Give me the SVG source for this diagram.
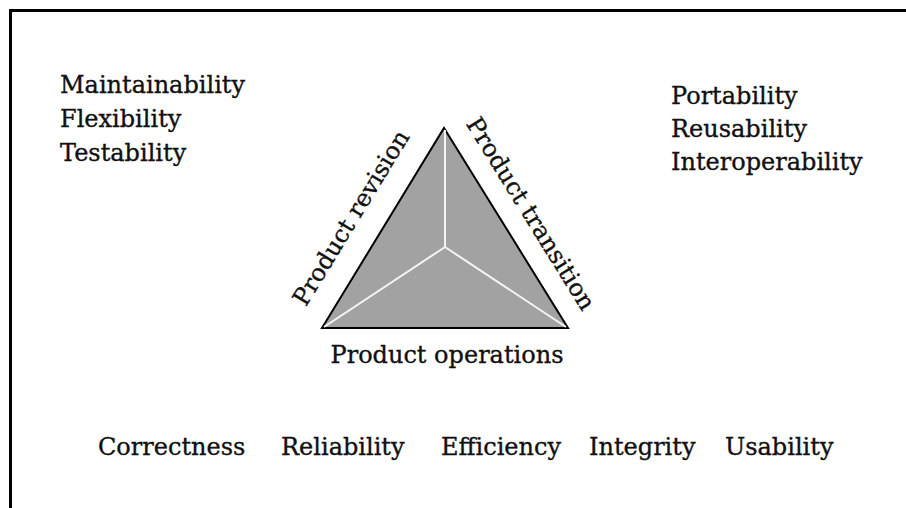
<svg xmlns="http://www.w3.org/2000/svg" width="906" height="508" viewBox="0 0 906 508">
  <style>
    .lbl { font-family: "DejaVu Serif", "Liberation Serif", serif; font-size: 24px; fill: #111; stroke: #111; stroke-width: 0.35px; }
    .frame { fill: none; stroke: #000; stroke-width: 3; }
    .tri { fill: #a2a2a2; stroke: #000; stroke-width: 2; stroke-linejoin: miter; }
    .spoke { stroke: #f4f4f4; stroke-width: 2; fill: none; }
  </style>
  <rect width="906" height="508" fill="#fff"/>
  <!-- open frame: left and top edges -->
  <path class="frame" d="M10.5,508 V10.5 H906"/>

  <!-- factor triangle -->
  <g id="triangle">
    <polygon class="tri" points="444,128 568,328 322,328"/>
    <g id="connectors">
      <line class="spoke" x1="445" y1="247" x2="445" y2="130"/>
      <line class="spoke" x1="445" y1="247" x2="324" y2="327"/>
      <line class="spoke" x1="445" y1="247" x2="566" y2="327"/>
    </g>
  </g>

  <g id="product-revision">
    <text class="lbl" x="358" y="222" text-anchor="middle" transform="rotate(-58.6 358 222)">Product revision</text>
  </g>
  <g id="product-transition">
    <text class="lbl" x="524" y="218" text-anchor="middle" transform="rotate(58.2 524 218)">Product transition</text>
  </g>
  <g id="product-operations">
    <text class="lbl" x="447" y="363" text-anchor="middle">Product operations</text>
  </g>

  <g id="revision-factors">
    <text class="lbl" x="60" y="93">Maintainability</text>
    <text class="lbl" x="60" y="127">Flexibility</text>
    <text class="lbl" x="60" y="161">Testability</text>
  </g>
  <g id="transition-factors">
    <text class="lbl" x="671" y="104">Portability</text>
    <text class="lbl" x="671" y="137">Reusability</text>
    <text class="lbl" x="671" y="170">Interoperability</text>
  </g>
  <g id="operation-factors">
    <text class="lbl" x="98" y="455">Correctness</text>
    <text class="lbl" x="281" y="455">Reliability</text>
    <text class="lbl" x="441" y="455">Efficiency</text>
    <text class="lbl" x="589" y="455">Integrity</text>
    <text class="lbl" x="725" y="455">Usability</text>
  </g>
</svg>
